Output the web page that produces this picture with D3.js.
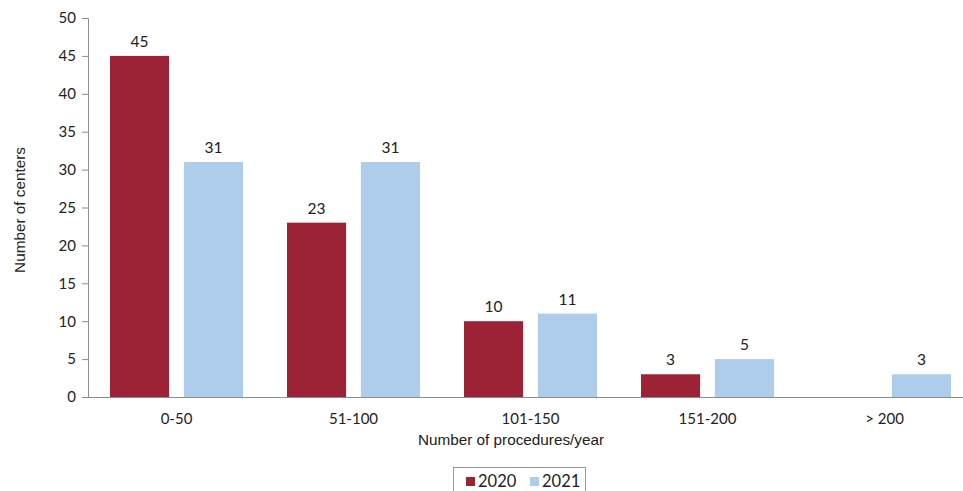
<!DOCTYPE html>
<html><head><meta charset="utf-8">
<script src="https://cdn.jsdelivr.net/npm/d3@7"></script>
<style>body{margin:0;background:#fff}</style>
</head><body>
<svg id="c" width="963" height="491"></svg>
<script>
const categories = ["0-50","51-100","101-150","151-200","> 200"];
const series = ["2020","2021"];
const values2020 = [45,23,10,3,null];
const values2021 = [31,31,11,5,3];
const yTicks = [0,5,10,15,20,25,30,35,40,45,50];
const colors = ["#9B2335","#AECDEB"];

(function(){
const svg = d3.select("#c");
const mLeft = 88, mRight = 973, mTop = 18, mBottom = 397;
const x = d3.scaleBand().domain(categories).range([mLeft, mRight]).paddingInner(0).paddingOuter(0);
const inner = d3.scaleBand().domain(series).range([22, x.bandwidth()-22]).paddingInner(0.2);
const y = d3.scaleLinear().domain([0,50]).range([mBottom, mTop]);
const numFont = "Lato, 'Open Sans', sans-serif";
const txtFont = "'Liberation Sans', Arial, sans-serif";

const ya = svg.append("g").attr("transform",`translate(${mLeft},0)`)
  .call(d3.axisLeft(y).tickValues(yTicks).tickSize(6).tickPadding(6));
ya.select(".domain").attr("stroke","#8c8c8c");
ya.selectAll(".tick line").attr("stroke","#8c8c8c");
ya.selectAll(".tick text").attr("font-family",numFont).attr("font-size",15).attr("fill","#222");

const xa = svg.append("g").attr("transform",`translate(0,${mBottom})`)
  .call(d3.axisBottom(x).tickSize(0).tickPadding(16));
xa.select(".domain").attr("stroke","#8c8c8c");
xa.selectAll(".tick text").attr("font-family",numFont).attr("font-size",15).attr("fill","#222");

const data = [];
categories.forEach((c,i)=>{
  data.push({c, s:"2020", v:values2020[i], col:colors[0]});
  data.push({c, s:"2021", v:values2021[i], col:colors[1]});
});
const dd = data.filter(d=>d.v!=null);
svg.append("g").selectAll("rect").data(dd).join("rect")
  .attr("x",d=>x(d.c)+inner(d.s)).attr("width",inner.bandwidth())
  .attr("y",d=>y(d.v)).attr("height",d=>mBottom-y(d.v)).attr("fill",d=>d.col);
svg.append("g").selectAll("text").data(dd).join("text")
  .attr("x",d=>x(d.c)+inner(d.s)+inner.bandwidth()/2).attr("y",d=>y(d.v)-9)
  .attr("text-anchor","middle").attr("font-family",numFont).attr("font-size",15.5).attr("fill","#222")
  .text(d=>d.v);

svg.append("text").attr("x",511).attr("y",445).attr("text-anchor","middle")
  .attr("font-family",txtFont).attr("font-size",15.3).attr("fill","#222")
  .text("Number of procedures/year");
svg.append("text").attr("transform","translate(25,210) rotate(-90)").attr("text-anchor","middle")
  .attr("font-family",txtFont).attr("font-size",15.3).attr("fill","#222")
  .text("Number of centers");

const lg = svg.append("g");
lg.append("rect").attr("x",453.5).attr("y",467.5).attr("width",132).attr("height",30)
  .attr("fill","none").attr("stroke","#999");
series.forEach((s,i)=>{
  const lx = 466 + i*64;
  lg.append("rect").attr("x",lx).attr("y",477).attr("width",9).attr("height",9).attr("fill",colors[i]);
  lg.append("text").attr("x",lx+12).attr("y",487).attr("font-family",numFont).attr("font-size",16.5)
    .attr("fill","#222").text(s);
});
})();
</script>
</body></html>
